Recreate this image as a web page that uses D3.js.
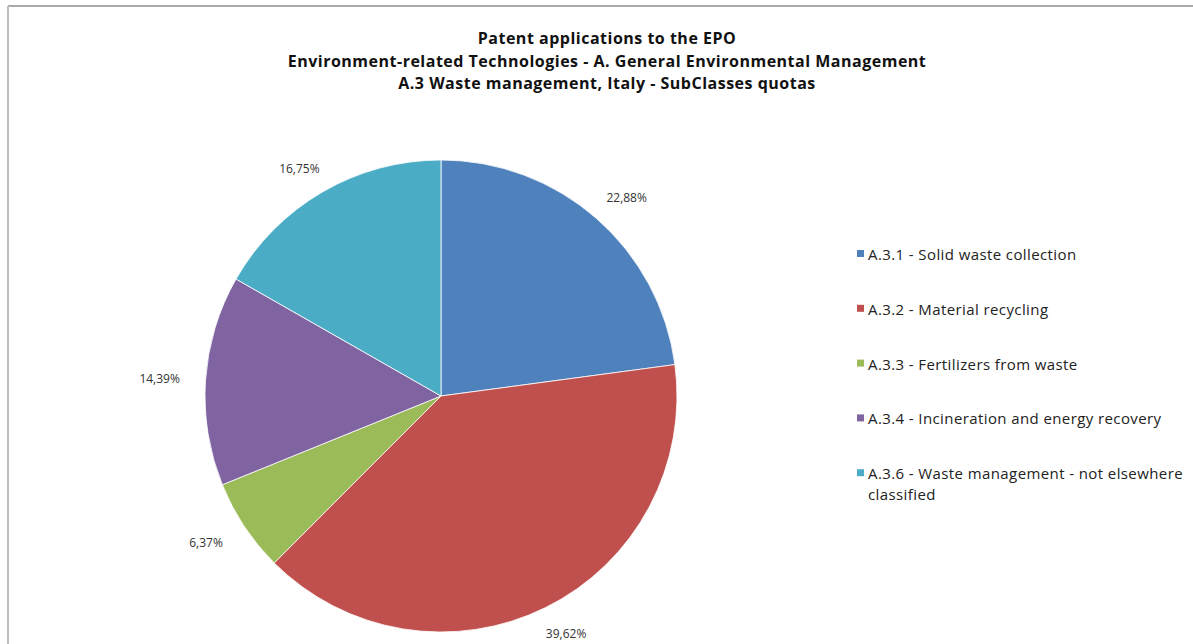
<!DOCTYPE html>
<html>
<head>
<meta charset="utf-8">
<script src="https://cdn.jsdelivr.net/npm/d3@7"></script>
<style>
  body { margin: 0; background: #fff; }
  svg { display: block; }
</style>
</head>
<body>
<svg id="chart"></svg>
<script>
var titleLines = [
  "Patent applications to the EPO",
  "Environment-related Technologies - A. General Environmental Management",
  "A.3 Waste management, Italy - SubClasses quotas"
];
var categories = [
  "A.3.1 - Solid waste collection",
  "A.3.2 - Material recycling",
  "A.3.3 - Fertilizers from waste",
  "A.3.4 - Incineration and energy recovery",
  "A.3.6 - Waste management - not elsewhere classified"
];
var legendLines = [
  ["A.3.1 - Solid waste collection"],
  ["A.3.2 - Material recycling"],
  ["A.3.3 - Fertilizers from waste"],
  ["A.3.4 - Incineration and energy recovery"],
  ["A.3.6 - Waste management - not elsewhere", "classified"]
];
var shares = [22.88, 39.62, 6.37, 14.39, 16.75];
var colors = ["#4F81BD", "#C0504D", "#9BBB59", "#8064A2", "#4BACC6"];

var width = 1193, height = 644;
var cx = 441, cy = 396, radius = 236;
var font = "'Open Sans', 'Noto Sans', sans-serif";

var svg = d3.select("#chart").attr("width", width).attr("height", height);

// chart frame (only top and left edges are visible in the crop)
svg.append("line").attr("x1", 8).attr("y1", 6).attr("x2", width).attr("y2", 6)
  .attr("stroke", "#8c8c8c").attr("stroke-width", 1.5);
svg.append("line").attr("x1", 8).attr("y1", 6).attr("x2", 8).attr("y2", height)
  .attr("stroke", "#bdbdbd").attr("stroke-width", 2);

// title
svg.append("g").selectAll("text")
  .data(titleLines)
  .enter()
  .append("text")
  .attr("x", 607)
  .attr("y", function (d, i) { return 44 + i * 22.5; })
  .attr("text-anchor", "middle")
  .style("font-family", font)
  .style("font-weight", "bold")
  .style("font-size", "16px")
  .style("letter-spacing", "0.5px")
  .attr("fill", "#111")
  .text(function (d) { return d; });

var data = shares.map(function (v, i) { return { name: categories[i], value: v, color: colors[i] }; });

var pie = d3.pie().sort(null).value(function (d) { return d.value; });
var arc = d3.arc().innerRadius(0).outerRadius(radius);
var arcs = pie(data);

var g = svg.append("g").attr("transform", "translate(" + cx + "," + cy + ")");

g.selectAll("path")
  .data(arcs)
  .enter()
  .append("path")
  .attr("d", arc)
  .attr("fill", function (d) { return d.data.color; })
  .attr("stroke", "#fff")
  .attr("stroke-width", 0.8);

// percentage labels outside the slices
g.selectAll(".lbl")
  .data(arcs)
  .enter()
  .append("text")
  .attr("class", "lbl")
  .attr("x", function (d) {
    var a = (d.startAngle + d.endAngle) / 2;
    var s = Math.sin(a);
    return (radius + 22) * s + s * 24;
  })
  .attr("y", function (d) {
    var a = (d.startAngle + d.endAngle) / 2;
    var c = Math.cos(a);
    return -(radius + 22) * c - c * 6 + 5;
  })
  .attr("text-anchor", "middle")
  .style("font-family", font)
  .style("font-size", "12px")
  .attr("fill", "#333")
  .text(function (d) { return d.data.value.toFixed(2).replace(".", ",") + "%"; });

// legend
var legend = svg.append("g").attr("transform", "translate(857,260)");
var item = legend.selectAll("g")
  .data(data)
  .enter()
  .append("g")
  .attr("transform", function (d, i) { return "translate(0," + i * 54.8 + ")"; });

item.append("rect")
  .attr("x", 0).attr("y", -10)
  .attr("width", 7).attr("height", 7)
  .attr("fill", function (d) { return d.color; });

item.append("text")
  .attr("x", 11)
  .attr("y", 0)
  .style("font-family", font)
  .style("font-size", "15px")
  .style("letter-spacing", "0.4px")
  .attr("fill", "#222")
  .selectAll("tspan")
  .data(function (d, i) { return legendLines[i]; })
  .enter()
  .append("tspan")
  .attr("x", 11)
  .attr("dy", function (d, i) { return i === 0 ? 0 : 21; })
  .text(function (d) { return d; });
</script>
</body>
</html>
